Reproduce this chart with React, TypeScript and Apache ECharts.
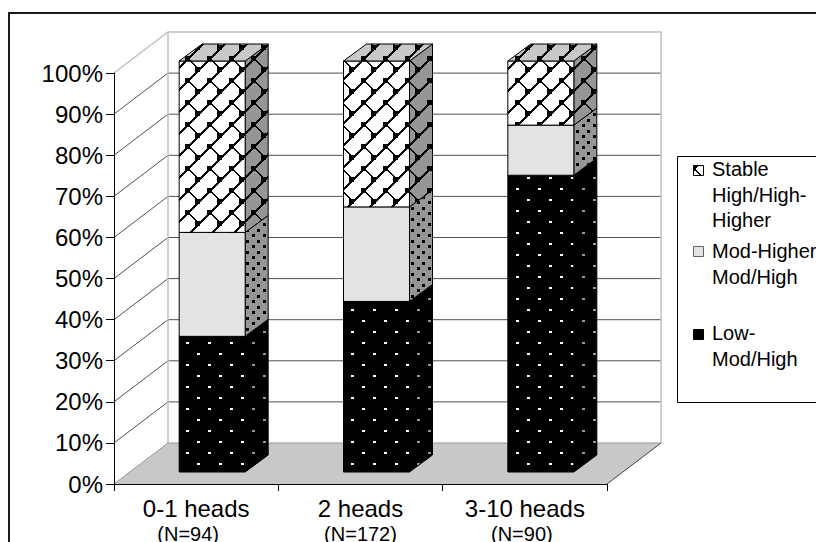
import React, { useEffect, useRef } from "react";
import * as echarts from "echarts";

const categories = ["0-1 heads", "2 heads", "3-10 heads"];
const sampleSizes = ["(N=94)", "(N=172)", "(N=90)"];
const lowValues = [33, 41.5, 72.2];
const modValues = [25.3, 23, 12.2];
const stableValues = [41.7, 35.5, 15.6];
const yTicks = [0, 10, 20, 30, 40, 50, 60, 70, 80, 90, 100];
const legendStable = ["Stable", "High/High-", "Higher"];
const legendMod = ["Mod-Higher", "Mod/High"];
const legendLow = ["Low-", "Mod/High"];

const FONT = '"Liberation Sans", Arial, sans-serif';
const BACK = [54, -41];
const BAR_SHIFT = [16, -12];
const BAR_DEPTH = [23, -17];
const BAR_W = 66;

function makeTile(size: number, bg: string, fg: string, draw: (r: (x: number, y: number, w: number, h: number) => void) => void) {
  const c = document.createElement("canvas");
  c.width = size;
  c.height = size;
  const g = c.getContext("2d")!;
  g.fillStyle = bg;
  g.fillRect(0, 0, size, size);
  g.fillStyle = fg;
  const r = (x: number, y: number, w: number, h: number) => {
    for (const ox of [-size, 0, size]) for (const oy of [-size, 0, size]) g.fillRect(x + ox, y + oy, w, h);
  };
  draw(r);
  return { image: c, repeat: "repeat", imageWidth: size, imageHeight: size } as any;
}

const wideDots = (r: any) => {
  r(-1, 1, 3, 2);
  r(10, 12, 3, 2);
};
const smallDots = (r: any) => {
  r(4, 9, 3, 3);
  r(-1, 3, 3, 3);
};
const brick = (r: any) => {
  for (let i = 0; i < 22; i++) {
    r(i, (3 - i + 44) % 22, 2, 2);
  }
  for (let i = 0; i <= 11; i++) {
    r(11 + i, 14 + i, 2, 1);
  }
  r(9, 12, 5, 5);
  r(-3, 1, 5, 5);
};

export default function App() {
  const ref = useRef<HTMLDivElement>(null);
  useEffect(() => {
    document.body.style.margin = "0";
    const chart = echarts.init(ref.current!, undefined, { renderer: "svg" });

    const fills = {
      low: [makeTile(22, "#000000", "#ffffff", wideDots), makeTile(22, "#000000", "#969696", wideDots)],
      mod: ["#e3e3e3", makeTile(11, "#969696", "#000000", smallDots)],
      stable: [
        makeTile(22, "#ffffff", "#000000", brick),
        makeTile(22, "#969696", "#000000", brick),
        makeTile(22, "#c8c8c8", "#000000", brick),
      ],
    } as any;

    const stackData = (vals: number[], below: number[][]) =>
      vals.map((v, i) => {
        const base = below.reduce((s, arr) => s + arr[i], 0);
        return [i, base, base + v];
      });

    const barSeries = (name: string, key: string, vals: number[], below: number[][], top: boolean) => ({
      type: "custom",
      name,
      z: 3,
      silent: true,
      data: stackData(vals, below),
      encode: { x: 0, y: 2 },
      renderItem: (_: any, api: any) => {
        const c0 = api.coord([api.value(0), api.value(1)]);
        const c1 = api.coord([api.value(0), api.value(2)]);
        const x0 = c0[0] - BAR_W / 2 + BAR_SHIFT[0];
        const x1 = x0 + BAR_W;
        const yb = c0[1] + BAR_SHIFT[1];
        const yt = c1[1] + BAR_SHIFT[1];
        const [dx, dy] = BAR_DEPTH;
        const line = { stroke: "#000000", lineWidth: 1 };
        const children: any[] = [
          { type: "polygon", shape: { points: [[x1, yb], [x1 + dx, yb + dy], [x1 + dx, yt + dy], [x1, yt]] }, style: { fill: fills[key][1], ...line } },
          { type: "polygon", shape: { points: [[x0, yb], [x1, yb], [x1, yt], [x0, yt]] }, style: { fill: fills[key][0], ...line } },
        ];
        if (top) {
          children.push({
            type: "polygon",
            shape: { points: [[x0, yt], [x1, yt], [x1 + dx, yt + dy], [x0 + dx, yt + dy]] },
            style: { fill: fills[key][2], ...line },
          });
        }
        return { type: "group", children };
      },
    });

    const wallSeries = {
      type: "custom",
      name: "walls",
      z: 1,
      silent: true,
      data: yTicks.map((t) => [0, t]),
      encode: { x: 0, y: 1 },
      renderItem: (params: any, api: any) => {
        const cs = params.coordSys;
        const v = api.value(1);
        const y = api.coord([0, v])[1];
        const xL = cs.x;
        const xR = cs.x + cs.width;
        const [dx, dy] = BACK;
        const children: any[] = [];
        if (v === 0) {
          children.push({
            type: "polygon",
            shape: { points: [[xL, y], [xL + dx, y + dy], [xR + dx, y + dy], [xR, y]] },
            style: { fill: "#c8c8c8", stroke: "none" },
          });
          children.push({
            type: "polyline",
            shape: { points: [[xL, y], [xL + dx, y + dy], [xR + dx, y + dy]] },
            style: { stroke: "#969696", lineWidth: 1, fill: "none" },
          });
          children.push({
            type: "line",
            shape: { x1: xR, y1: y, x2: xR + dx, y2: y + dy },
            style: { stroke: "#404040", lineWidth: 1 },
          });
        } else if (v === 100) {
          children.push({
            type: "polyline",
            shape: { points: [[xL, y], [xL + dx, y + dy], [xR + dx, y + dy], [xR + dx, cs.y + cs.height + dy]] },
            style: { stroke: "#c0c0c0", lineWidth: 1.5, fill: "none" },
          });
          children.push({
            type: "line",
            shape: { x1: xL + dx, y1: y + dy, x2: xL + dx, y2: cs.y + cs.height + dy },
            style: { stroke: "#c0c0c0", lineWidth: 1.5 },
          });
        } else {
          children.push({
            type: "polyline",
            shape: { points: [[xL, y], [xL + dx, y + dy], [xR + dx, y + dy]] },
            style: { stroke: "#505050", lineWidth: 1, fill: "none" },
          });
        }
        return { type: "group", children };
      },
    };

    const legendText = (lines: string[], firstY: number) =>
      lines.map((t, i) => ({
        type: "text",
        x: 712,
        y: firstY + i * 25.5,
        style: { text: t, fill: "#000000", font: `20px ${FONT}`, verticalAlign: "middle" },
      }));
    const swatch = (y: number, fill: any, stroke: string) => ({
      type: "rect",
      shape: { x: 693.5, y, width: 10, height: 10 },
      style: { fill, stroke, lineWidth: 1 },
    });

    chart.setOption({
      animation: false,
      grid: { left: 114, top: 73, width: 493, height: 411, containLabel: false, outerBoundsMode: "none" },
      xAxis: {
        type: "category",
        data: categories,
        z: 6,
        axisLine: { lineStyle: { color: "#000000", width: 1 } },
        axisTick: { show: true, length: 7, alignWithLabel: false, lineStyle: { color: "#000000" } },
        axisLabel: {
          margin: 12,
          interval: 0,
          color: "#000000",
          fontFamily: FONT,
          formatter: (v: string) => {
            const i = categories.indexOf(v);
            return `{a|${v}}\n{b${i}|${sampleSizes[i]}}`;
          },
          rich: {
            a: { fontSize: 24, fontFamily: FONT, color: "#000000", lineHeight: 25 },
            b0: { fontSize: 20, fontFamily: FONT, color: "#000000", lineHeight: 25, padding: [0, 16, 0, 0] },
            b1: { fontSize: 20, fontFamily: FONT, color: "#000000", lineHeight: 25 },
            b2: { fontSize: 20, fontFamily: FONT, color: "#000000", lineHeight: 25, padding: [0, 6, 0, 0] },
          },
        },
        splitLine: { show: false },
      },
      yAxis: {
        type: "value",
        min: 0,
        max: 100,
        interval: 10,
        z: 6,
        axisLine: { show: true, lineStyle: { color: "#000000", width: 1 } },
        axisTick: { show: true, length: 8, lineStyle: { color: "#000000" } },
        axisLabel: { margin: 11, color: "#000000", fontSize: 24, fontFamily: FONT, formatter: "{value}%" },
        splitLine: { show: false },
      },
      series: [
        wallSeries,
        barSeries("Low-Mod/High", "low", lowValues, [], false),
        barSeries("Mod-Higher Mod/High", "mod", modValues, [lowValues], false),
        barSeries("Stable High/High-Higher", "stable", stableValues, [lowValues, modValues], true),
      ],
      graphic: [
        { type: "polyline", shape: { points: [[9, 542], [9, 13], [816, 13]] }, style: { stroke: "#1a1a1a", lineWidth: 2, fill: "none" } },
        { type: "polyline", shape: { points: [[816, 156.5], [677.5, 156.5], [677.5, 402.5], [816, 402.5]] }, style: { stroke: "#000000", lineWidth: 1, fill: "#ffffff" } },
        swatch(165.5, fills.stable[0], "#000000"),
        swatch(246.5, fills.mod[0], "#606060"),
        swatch(329.5, fills.low[0], "#000000"),
        ...legendText(legendStable, 169),
        ...legendText(legendMod, 251),
        ...legendText(legendLow, 333),
      ],
    } as any);
    return () => chart.dispose();
  }, []);
  return <div ref={ref} style={{ width: 816, height: 542 }} />;
}
